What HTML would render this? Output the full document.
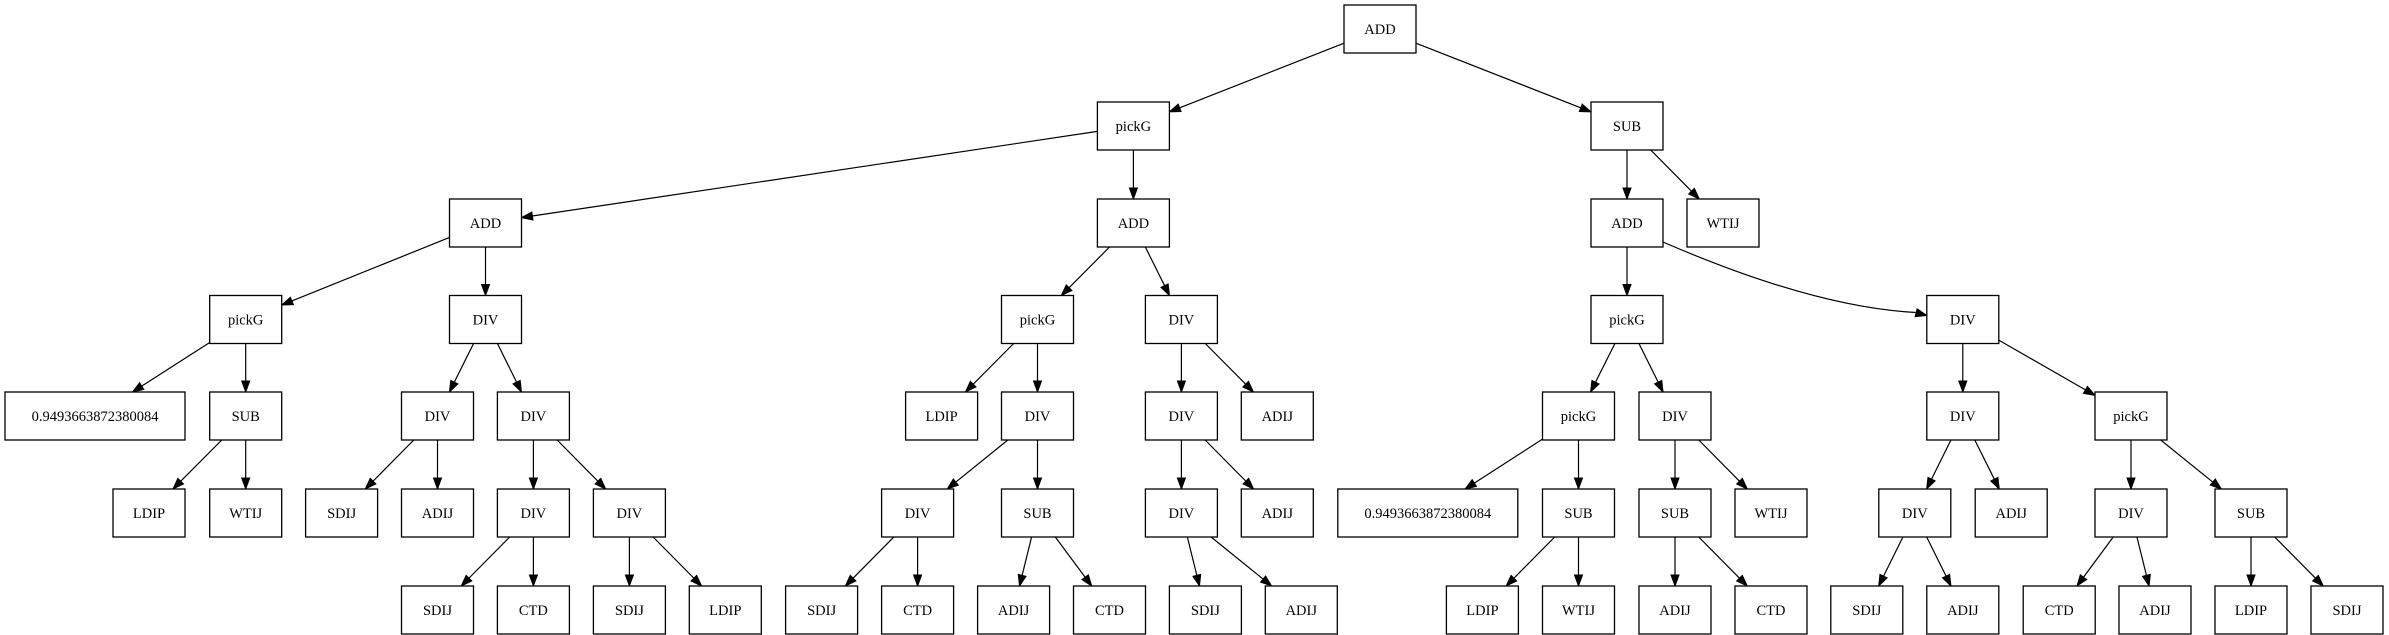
<!DOCTYPE html>
<html><head><meta charset="utf-8">
<style>
html,body{margin:0;padding:0;background:#fff;width:2389px;height:635px;overflow:hidden}
svg text{font-family:"Liberation Serif","DejaVu Serif",serif;font-size:14.5px;fill:#000}
</style></head><body>
<svg id="g" width="2389" height="635" viewBox="0 0 2389 635" xmlns="http://www.w3.org/2000/svg"></svg>
<script>
const R=[5,102,199,295.5,392,489,586];
const N={};
function n(id,lab,x,l,w){N[id]={lab,x,y:R[l],w:w||72,h:48};}
n('r','ADD',1344,0);
n('a','pickG',1097.4,1);n('b','SUB',1591,1);
n('a1','ADD',449.5,2);n('a2','ADD',1097.4,2);n('b1','ADD',1591,2);n('b2','WTIJ',1687,2);
n('c1','pickG',209.7,3);n('c2','DIV',449.5,3);n('c3','pickG',1001.5,3);n('c4','DIV',1145.4,3);n('c5','pickG',1591,3);n('c6','DIV',1926.8,3);
n('d1','0.9493663872380084',5,4,180);n('d2','SUB',209.7,4);n('d3','DIV',401.5,4);n('d4','DIV',497.4,4);
n('d5','LDIP',905.6,4);n('d6','DIV',1001.5,4);n('d7','DIV',1145.4,4);n('d8','ADIJ',1241.3,4);
n('d9','pickG',1542.5,4);n('d10','DIV',1639,4);n('d11','DIV',1926.8,4);n('d12','pickG',2095,4);
n('e1','LDIP',113,5);n('e2','WTIJ',209.7,5);n('e3','SDIJ',305.6,5);n('e4','ADIJ',401.5,5);n('e5','DIV',497.4,5);n('e6','DIV',593.4,5);
n('e7','DIV',881.6,5);n('e8','SUB',1001.5,5);n('e9','DIV',1145.4,5);n('e10','ADIJ',1241.3,5);
n('e11','0.9493663872380084',1337.8,5,180);n('e12','SUB',1542.5,5);n('e13','SUB',1639,5);n('e14','WTIJ',1735,5);
n('e15','DIV',1878.8,5);n('e16','ADIJ',1975.2,5);n('e17','DIV',2095,5);n('e18','SUB',2215,5);
n('f1','SDIJ',401.5,6);n('f2','CTD',497.4,6);n('f3','SDIJ',593.4,6);n('f4','LDIP',689.3,6);
n('f5','SDIJ',785.6,6);n('f6','CTD',881.6,6);n('f7','ADIJ',977.6,6);n('f8','CTD',1073.5,6);
n('f9','SDIJ',1169.4,6);n('f10','ADIJ',1265.3,6);n('f11','LDIP',1446.4,6);n('f12','WTIJ',1542.5,6);
n('f13','ADIJ',1639,6);n('f14','CTD',1735,6);n('f15','SDIJ',1830.8,6);n('f16','ADIJ',1926.8,6);
n('f17','CTD',2023.2,6);n('f18','ADIJ',2119,6);n('f19','LDIP',2215,6);n('f20','SDIJ',2311,6);
const E=[['r','a'],['r','b'],['a','a1'],['a','a2'],['a1','c1'],['a1','c2'],['c1','d1'],['c1','d2'],['d2','e1'],['d2','e2'],
['c2','d3'],['c2','d4'],['d3','e3'],['d3','e4'],['d4','e5'],['d4','e6'],['e5','f1'],['e5','f2'],['e6','f3'],['e6','f4'],
['a2','c3'],['a2','c4'],['c3','d5'],['c3','d6'],['d6','e7'],['d6','e8'],['e7','f5'],['e7','f6'],['e8','f7'],['e8','f8'],
['c4','d7'],['c4','d8'],['d7','e9'],['d7','e10'],['e9','f9'],['e9','f10'],
['b','b1'],['b','b2'],['b1','c5'],['b1','c6','curve'],['c5','d9'],['c5','d10'],['d9','e11'],['d9','e12'],['e12','f11'],['e12','f12'],
['d10','e13'],['d10','e14'],['e13','f13'],['e13','f14'],['c6','d11'],['c6','d12'],['d11','e15'],['d11','e16'],['e15','f15'],['e15','f16'],
['d12','e17'],['d12','e18'],['e17','f17'],['e17','f18'],['e18','f19'],['e18','f20']];
let s='';
function ctr(b){return [b.x+b.w/2,b.y+b.h/2];}
function clip(b,dx,dy){ // from center, direction (dx,dy), find boundary
  const hw=b.w/2,hh=b.h/2;let t=Infinity;
  if(dx)t=Math.min(t,hw/Math.abs(dx));if(dy)t=Math.min(t,hh/Math.abs(dy));return t;}
function arrow(x,y,ux,uy){const L=11,W=4;const bx=x-ux*L,by=y-uy*L;
  return `<polygon points="${x},${y} ${bx-uy*W},${by+ux*W} ${bx+uy*W},${by-ux*W}" fill="#000" stroke="#000" stroke-width="1"/>`;}
for(const [p,c,k] of E){
  const P=N[p],C=N[c];const [px,py]=ctr(P),[cx,cy]=ctr(C);
  if(k){ // curve
    const sx=P.x+P.w,sy=P.y+P.h-5,ex=C.x,ey=C.y+20;
    s+=`<path d="M${sx},${sy} Q${sx+150},${sy+65} ${ex-11},${ey-3}" fill="none" stroke="#000" stroke-width="1.2"/>`;
    s+=arrow(ex,ey,0.97,0.25);continue;}
  let dx=cx-px,dy=cy-py;const d=Math.hypot(dx,dy);dx/=d;dy/=d;
  const t0=clip(P,dx,dy),t1=clip(C,dx,dy);
  const sx=px+dx*t0,sy=py+dy*t0,ex=cx-dx*t1,ey=cy-dy*t1;
  s+=`<line x1="${sx}" y1="${sy}" x2="${ex-dx*10}" y2="${ey-dy*10}" stroke="#000" stroke-width="1.2"/>`;
  s+=arrow(ex,ey,dx,dy);
}
for(const id in N){const b=N[id];
  s+=`<rect x="${b.x}" y="${b.y}" width="${b.w}" height="${b.h}" fill="#fff" stroke="#000" stroke-width="1.3"/>`;
  s+=`<text x="${b.x+b.w/2}" y="${b.y+b.h/2+5}" text-anchor="middle">${b.lab}</text>`;}
document.getElementById('g').innerHTML=s;
</script>
</body></html>
